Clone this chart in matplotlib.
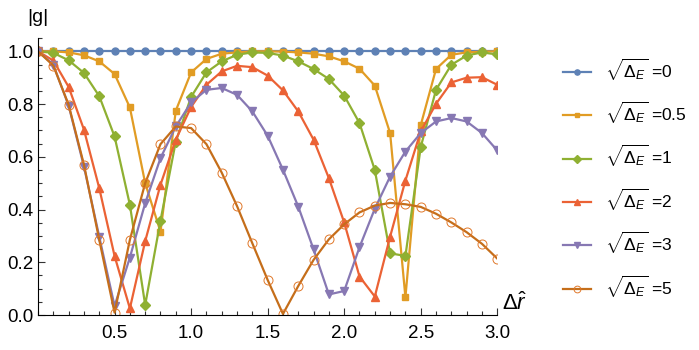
import numpy as np
import matplotlib
matplotlib.use('Agg')
import matplotlib.pyplot as plt
from matplotlib.ticker import MultipleLocator

plt.rcParams['font.family'] = ['Liberation Sans', 'DejaVu Sans']
plt.rcParams['mathtext.fontset'] = 'custom'
plt.rcParams['mathtext.rm'] = 'Liberation Sans'
plt.rcParams['mathtext.it'] = 'Liberation Sans:italic'

# data
dr = np.round(np.arange(0, 31) * 0.1, 1)
g_0 = [1.0] * 31
g_05 = [1.0, 1.0, 0.996, 0.985, 0.962, 0.914, 0.787, 0.50, 0.316, 0.775, 0.92,
        0.971, 0.991, 0.996, 1.0, 1.0, 0.999, 0.996, 0.991, 0.981, 0.962,
        0.934, 0.87, 0.69, 0.067, 0.72, 0.933, 0.987, 0.996, 0.999, 1.0]
g_1 = [1.0, 0.994, 0.966, 0.918, 0.83, 0.677, 0.418, 0.038, 0.358, 0.658, 0.827,
       0.92, 0.962, 0.987, 0.996, 0.994, 0.984, 0.962, 0.933, 0.895, 0.832,
       0.728, 0.55, 0.234, 0.224, 0.637, 0.854, 0.949, 0.984, 0.996, 0.988]
g_2 = [1.0, 0.965, 0.865, 0.703, 0.481, 0.224, 0.025, 0.28, 0.494, 0.665, 0.789,
       0.873, 0.924, 0.945, 0.94, 0.908, 0.852, 0.772, 0.665, 0.519, 0.351,
       0.146, 0.07, 0.297, 0.51, 0.696, 0.801, 0.882, 0.9, 0.902, 0.873]
g_3 = [1.0, 0.949, 0.794, 0.563, 0.297, 0.034, 0.218, 0.424, 0.595, 0.715, 0.806,
       0.854, 0.861, 0.835, 0.772, 0.68, 0.551, 0.411, 0.249, 0.078, 0.091,
       0.257, 0.403, 0.525, 0.62, 0.69, 0.734, 0.747, 0.734, 0.69, 0.624]
g_5 = [1.0, 0.946, 0.797, 0.57, 0.285, 0.009, 0.285, 0.5, 0.648, 0.715, 0.709,
       0.648, 0.54, 0.413, 0.272, 0.133, 0.004, 0.11, 0.209, 0.287, 0.344,
       0.389, 0.415, 0.425, 0.42, 0.41, 0.384, 0.351, 0.314, 0.27, 0.214]
labels = ['0', '0.5', '1', '2', '3', '5']

series = [g_0, g_05, g_1, g_2, g_3, g_5]
colors = ['#5E81B5', '#E19C24', '#8FB032', '#EB6235', '#8778B3', '#C56E1A']
markers = ['o', 's', 'D', '^', 'v', 'o']
msizes = [5, 4.5, 5, 5.5, 5.5, 6.5]

fig = plt.figure(figsize=(6.99, 3.5), dpi=100)
ax = fig.add_axes([0.0544, 0.1, 0.657, 0.791])

for ys, c, m, ms, lab in zip(series, colors, markers, msizes, labels):
    if lab == '5':
        ax.plot(dr, ys, color=c, lw=1.6, marker=m, ms=ms, mfc='none',
                mec='#E0782A', mew=0.7, label=r'$\sqrt{\Delta_E}$ =' + lab)
    else:
        ax.plot(dr, ys, color=c, lw=1.6, marker=m, ms=ms, mec=c,
                label=r'$\sqrt{\Delta_E}$ =' + lab)

ax.set_xlim(0, 3.0)
ax.set_ylim(0, 1.05)
ax.spines['top'].set_visible(False)
ax.spines['right'].set_visible(False)
ax.xaxis.set_major_locator(MultipleLocator(0.5))
ax.xaxis.set_minor_locator(MultipleLocator(0.1))
ax.yaxis.set_major_locator(MultipleLocator(0.2))
ax.yaxis.set_minor_locator(MultipleLocator(0.05))
ax.set_xticks([0.5, 1.0, 1.5, 2.0, 2.5, 3.0])
ax.set_xticklabels(['0.5', '1.0', '1.5', '2.0', '2.5', '3.0'])
ax.set_yticklabels(['%.1f' % v for v in ax.get_yticks()])
ax.tick_params(which='both', direction='in', labelsize=13.5, width=0.8, color='#333333')
ax.tick_params(which='major', length=5)
ax.tick_params(which='minor', length=3)
ax.tick_params(axis='x', pad=7)
ax.tick_params(axis='y', pad=3)
ax.set_ylim(0, 1.05)

ax.text(0.0, 1.045, '|g|', transform=ax.transAxes, ha='center', va='bottom', fontsize=14)
ax.text(1.01, 0.0, r'$\Delta\hat{r}$', transform=ax.transAxes, ha='left', va='bottom', fontsize=16)

leg = ax.legend(loc='upper left', bbox_to_anchor=(1.11, 0.99), frameon=False,
                fontsize=12.5, labelspacing=1.0, handlelength=1.6, handletextpad=0.8,
                markerscale=0.75)

fig.savefig('out.png', dpi=100)
